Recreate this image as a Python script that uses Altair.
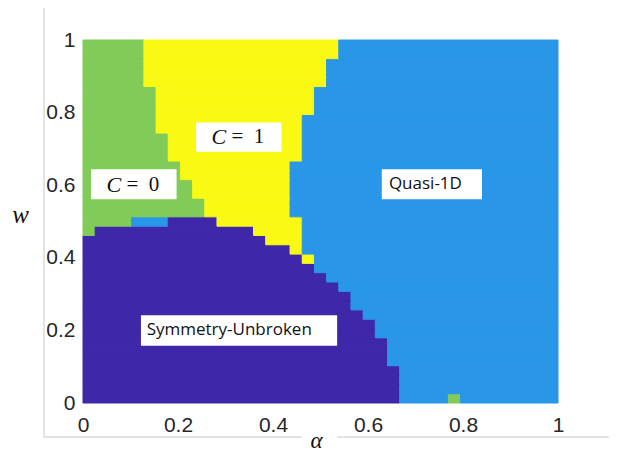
import altair as alt
import pandas as pd

# ---- data: phase of every pcolor cell, row by row from w=0 (bottom) to w=1 (top)
N = 39  # 40 grid points in alpha and in w -> 39 x 39 cells
# run-length description of each row: phase letter followed by number of cells
row_runs = [
    "P26 B4 G1 B8",          # row 0
    "P26 B13", "P26 B13", "P26 B13",
    "P25 B14", "P25 B14", "P25 B14",
    "P24 B15", "P24 B15",
    "P23 B16",
    "P22 B17", "P22 B17",
    "P21 B18",
    "P20 B19",
    "P19 B20",
    "P18 Y1 B20",
    "P17 Y1 B21",
    "P15 Y3 B21",
    "G1 P13 Y4 B21",
    "G4 B3 P4 Y7 B21",
    "G10 Y7 B22", "G10 Y7 B22",
    "G9 Y8 B22", "G9 Y8 B22",
    "G8 Y9 B22", "G8 Y9 B22",
    "G7 Y11 B21", "G7 Y11 B21", "G7 Y11 B21",
    "G6 Y12 B21", "G6 Y12 B21",
    "G6 Y13 B20", "G6 Y13 B20", "G6 Y13 B20",
    "G5 Y15 B19", "G5 Y15 B19", "G5 Y15 B19",
    "G5 Y16 B18", "G5 Y16 B18",   # row 38
]

phase_codes = ["P", "B", "G", "Y"]
phase_names = ["Symmetry-Unbroken", "Quasi-1D", "C = 0", "C = 1"]
phase_colors = ["#3E27A8", "#2996E8", "#81CB58", "#F9F914"]

tick_values = [0, 0.2, 0.4, 0.6, 0.8, 1]

# annotation boxes (data coordinates)
box_names = ["C = 0", "C = 1", "Quasi-1D", "Symmetry-Unbroken"]
box_a0 = [0.017, 0.238, 0.629, 0.122]
box_a1 = [0.197, 0.418, 0.840, 0.535]
box_w0 = [0.561, 0.692, 0.561, 0.158]
box_w1 = [0.644, 0.773, 0.644, 0.242]

plain_text = ["Quasi-1D", "Symmetry-Unbroken"]
plain_a = [0.644, 0.134]
plain_w = [0.603, 0.201]

math_value = ["= 0", "= 1"]
math_a = [0.107, 0.328]
math_w = [0.601, 0.733]

# ---- build tables
code_to_name = dict(zip(phase_codes, phase_names))
recs = []
for j, row in enumerate(row_runs):
    c = 0
    for tok in row.split():
        code, n = tok[0], int(tok[1:])
        recs.append({"a0": c / N, "a1": (c + n) / N, "w0": j / N, "w1": (j + 1) / N,
                     "phase": code_to_name[code]})
        c += n
cells_df = pd.DataFrame(recs)

boxes_df = pd.DataFrame({"name": box_names, "a0": box_a0, "a1": box_a1,
                         "w0": box_w0, "w1": box_w1})
plain_df = pd.DataFrame({"t": plain_text, "a": plain_a, "w": plain_w})
math_df = pd.DataFrame({"v": [s.replace(" ", "\u2002") for s in math_value],
                        "a": math_a, "w": math_w})

xscale = alt.Scale(domain=[0, 1], nice=False, zero=False)
yscale = alt.Scale(domain=[0, 1], nice=False, zero=False)
cscale = alt.Scale(domain=phase_names, range=phase_colors)

x_axis = alt.Axis(values=tick_values, format="~g", ticks=False, domain=False, grid=False,
                  labelFont="Liberation Sans", labelFontSize=21, labelColor="#262626",
                  labelPadding=11, labelFlush=False,
                  title="α", titleFont="Liberation Serif", titleFontStyle="italic",
                  titleFontWeight="normal", titleFontSize=23, titleColor="#111111",
                  titleX=233, titleY=44, titleBaseline="alphabetic", titleAlign="center")
y_axis = alt.Axis(values=tick_values, format="~g", ticks=False, domain=False, grid=False,
                  labelFont="Liberation Sans", labelFontSize=21, labelColor="#262626",
                  labelPadding=8, labelFlush=False,
                  title="w", titleFont="Liberation Serif", titleFontStyle="italic",
                  titleFontWeight="normal", titleFontSize=25, titleColor="#111111",
                  titleAngle=0, titleX=-63, titleY=182, titleBaseline="alphabetic",
                  titleAlign="center")

cells = alt.Chart(cells_df).mark_rect(strokeWidth=1).encode(
    x=alt.X("a0:Q", scale=xscale, axis=x_axis),
    x2="a1:Q",
    y=alt.Y("w0:Q", scale=yscale, axis=y_axis),
    y2="w1:Q",
    color=alt.Color("phase:N", scale=cscale, legend=None),
    stroke=alt.Stroke("phase:N", scale=cscale, legend=None),
)

boxes = alt.Chart(boxes_df).mark_rect(color="white").encode(
    x=alt.X("a0:Q", scale=xscale), x2="a1:Q",
    y=alt.Y("w0:Q", scale=yscale), y2="w1:Q",
)

plain = alt.Chart(plain_df).mark_text(
    font="Open Sans", fontSize=17, align="left", baseline="middle", color="#111111"
).encode(x=alt.X("a:Q", scale=xscale), y=alt.Y("w:Q", scale=yscale), text="t:N")

math_c = alt.Chart(math_df).mark_text(
    font="Liberation Serif", fontStyle="italic", fontSize=22, align="center",
    baseline="middle", dx=-20, color="#111111"
).encode(x=alt.X("a:Q", scale=xscale), y=alt.Y("w:Q", scale=yscale), text=alt.value("C"))

math_v = alt.Chart(math_df).mark_text(
    font="Liberation Serif", fontSize=21, align="center", baseline="middle", dx=9,
    color="#111111"
).encode(x=alt.X("a:Q", scale=xscale), y=alt.Y("w:Q", scale=yscale), text="v:N")

# light frame lines of the original figure
frame_v = alt.Chart(pd.DataFrame({"k": [0]})).mark_rule(color="#C8C8C8", strokeWidth=1).encode(
    x=alt.value(-39), y=alt.value(-34), y2=alt.value(397))
frame_h1 = alt.Chart(pd.DataFrame({"k": [0]})).mark_rule(color="#C8C8C8", strokeWidth=1).encode(
    x=alt.value(-39), x2=alt.value(219), y=alt.value(397))
frame_h2 = alt.Chart(pd.DataFrame({"k": [0]})).mark_rule(color="#C8C8C8", strokeWidth=1).encode(
    x=alt.value(254), x2=alt.value(540), y=alt.value(397))

chart = alt.layer(cells, boxes, plain, math_c, math_v, frame_v, frame_h1, frame_h2).properties(
    width=475, height=363,
    padding={"left": 75, "top": 32, "right": 51, "bottom": 50},
    autosize=alt.AutoSizeParams(type="none"),
    background="white",
).configure_view(stroke=None)

chart.save("out.html", embed_options={"renderer": "svg", "actions": False})
